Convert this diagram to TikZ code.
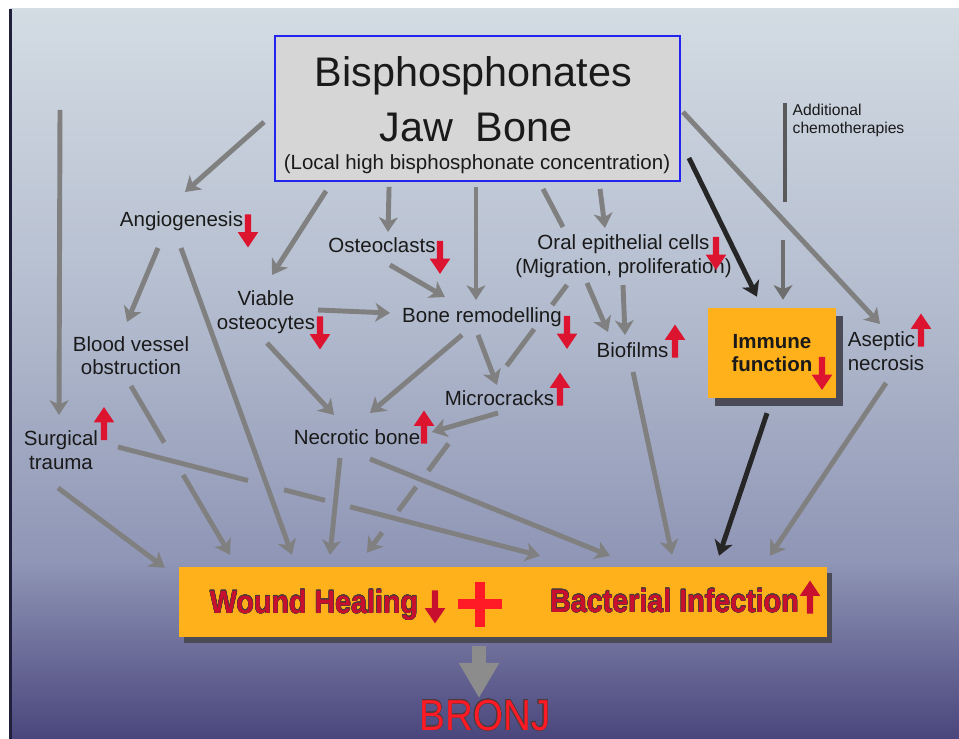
\documentclass[tikz,border=0pt]{standalone}
\usepackage{fontspec}
\setmainfont{Liberation Sans}
\newfontfamily\condfont{Liberation Sans}[FakeStretch=0.89]
\usepackage{tikz}
\usetikzlibrary{arrows.meta, shapes.arrows, shadows}
\usepackage[copies]{contour}
\contourlength{0.3pt}
\contournumber{16}
\definecolor{sltop}{HTML}{D3DBE3}
\definecolor{slmid}{HTML}{B4BDCF}
\definecolor{sllow}{HTML}{8F96B6}
\definecolor{slbot}{HTML}{4A467D}
\definecolor{sledge}{HTML}{20203A}
\definecolor{cgray}{HTML}{808080}
\definecolor{cmid}{HTML}{6E6E6E}
\definecolor{cdark}{HTML}{262626}
\definecolor{cchemo}{HTML}{5A5A5A}
\definecolor{bpfill}{HTML}{D6D6D6}
\definecolor{bpblue}{HTML}{2424F0}
\definecolor{morange}{HTML}{FFB11B}
\definecolor{mshadow}{HTML}{4B4B57}
\definecolor{mred}{HTML}{DC1430}
\definecolor{mdeep}{HTML}{C8102E}
\definecolor{mbright}{HTML}{FF1A26}
\definecolor{mtext}{HTML}{1A1A1A}
\definecolor{moutline}{HTML}{4A3A3A}
\definecolor{mbigarr}{HTML}{8C8C8C}
\tikzset{
  lbl/.style={text=mtext, font=\fontsize{17.5}{21}\selectfont, inner sep=2pt, anchor=base},
  lbl2/.style={text=mtext, font=\fontsize{17.5}{20}\selectfont, inner sep=2pt, align=center},
  garr/.style={-{Stealth[length=12.5pt, width=16pt, inset=3.5pt]}, line width=4.2pt, cgray},
  karr/.style={garr, cdark},
  gline/.style={line width=4.2pt, cgray},
  redarr/.style={single arrow, fill=mred, draw=none, inner sep=0.9mm,
                 minimum height=9.9mm, minimum width=6mm,
                 single arrow head extend=2.1mm, single arrow tip angle=68},
  dnarr/.style={redarr, rotate=-90},
  uparr/.style={redarr, rotate=90},
  obox/.style={fill=morange, draw=none, inner sep=0pt},
}

\begin{document}
\begin{tikzpicture}[x=0.03cm, y=-0.03cm]
  \tikzstyle{bottomtext} = [anchor=base, inner sep=0pt, text=mdeep, font=\condfont\bfseries\fontsize{27.5}{32}\selectfont]
  \useasboundingbox (0,0) rectangle (959,739);

  %% Slide background
  \fill[white] (0,0) rectangle (959,739);
  \shade[top color=sltop, bottom color=slmid] (10,9) rectangle (959,301);
  \shade[top color=slmid, bottom color=sllow] (10,300) rectangle (959,561);
  \shade[top color=sllow, bottom color=slbot] (10,560) rectangle (959,739);
  \fill[sledge] (9,9) rectangle (12,739);

  %% Top box
  \node[fill=bpfill, draw=bpblue, line width=1.6pt, minimum width=12.15cm, minimum height=4.35cm] (bp) at (477.5,108.5) {};
  \node[anchor=base, inner sep=0pt, text=mtext, font=\fontsize{35.3}{40}\selectfont] (t1) at (473.5,87) {Bisphosphonates};
  \node[anchor=base, inner sep=0pt, text=mtext, font=\fontsize{35.3}{40}\selectfont] (t2) at (476,142) {Jaw\ \ Bone};
  \node[anchor=base, inner sep=0pt, text=mtext, font=\fontsize{17.5}{21}\selectfont] (t3) at (477,170) {(Local high bisphosphonate concentration)};
  \node[text=mtext, font=\fontsize{13.4}{15.4}\selectfont, align=left, inner sep=1pt] (chemo) at (848.5,120.5) {Additional\\chemotherapies};

  %% Labels
  \node[lbl] (angio) at (181.5,227) {Angiogenesis};
  \node[lbl] (osteo) at (382,253) {Osteoclasts};
  \node[lbl] (remod) at (482,322) {Bone remodelling};
  \node[lbl] (necro) at (357,444) {Necrotic bone};
  \node[lbl] (micro) at (499.5,405) {Microcracks};
  \node[lbl] (biofilm) at (632.5,357) {Biofilms};
  \node[lbl2] (oral) at (623.5,256) {Oral epithelial cells\\(Migration, proliferation)};
  \node[lbl2] (viable) at (266,312) {Viable\\osteocytes};
  \node[lbl2] (blood) at (131,355.5) {Blood vessel\\obstruction};
  \node[lbl2] (surg) at (61,450) {Surgical\\trauma};
  \node[lbl2, align=left] (asep) at (886,351) {Aseptic\\necrosis};
  \node[obox, text=mtext, font=\bfseries\fontsize{17.5}{19.6}\selectfont, align=center,
        minimum width=3.84cm, minimum height=2.7cm,
        drop shadow={shadow xshift=2.1mm, shadow yshift=-2.4mm, fill=mshadow, opacity=1}] (immune) at (772,353) {Immune\\function};

  %% Bottom box
  \node[obox, minimum width=19.44cm, minimum height=2.1cm,
        drop shadow={shadow xshift=1.5mm, shadow yshift=-1.8mm, fill=mshadow, opacity=1}] (wb) at (503,602) {};
  \node[bottomtext] (wh) at (314,613) {\contour{moutline}{Wound Healing}};
  \node[bottomtext] (bi) at (674.5,612) {\contour{moutline}{Bacterial Infection}};
  \coordinate (plus) at (480,604);
  \draw[mbright, line width=7.7pt] ([shift={(-22,0)}]plus) -- ([shift={(22,0)}]plus);
  \draw[mbright, line width=7.7pt] ([shift={(0,-22.5)}]plus) -- ([shift={(0,22.5)}]plus);
  \node[anchor=base, inner sep=0pt, text=mbright, font=\condfont\fontsize{37}{42}\selectfont] (bronj) at (485,730) {\contour{moutline}{BRONJ}};

  %% Red markers
  \node[dnarr] (r1) at (248,228.5) {};
  \node[dnarr] (r2) at (440,255) {};
  \node[dnarr] (r3) at (716,251) {};
  \node[dnarr] (r4) at (320,330.5) {};
  \node[dnarr] (r5) at (567,330) {};
  \node[uparr] (r6) at (560,391.5) {};
  \node[uparr] (r7) at (424,429.5) {};
  \node[uparr] (r8) at (104,426) {};
  \node[uparr] (r9) at (675,343.5) {};
  \node[dnarr] (r10) at (822,371) {};
  \node[uparr] (r11) at (921,332.5) {};
  \node[dnarr, fill=mdeep] (r12) at (435,604.5) {};
  \node[uparr, fill=mdeep] (r13) at (810,599.5) {};

  %% From the top box
  \draw[garr] ([shift={(-10,13.5)}]bp.west) -- ([shift={(3.5,-35)}]angio.base);
  \draw[garr] ([shift={(52,9)}]bp.south west) -- ([shift={(6,-37)}]viable.center);
  \draw[garr] ([shift={(115,5)}]bp.south west) -- ([shift={(6,-21)}]osteo.base);
  \draw[garr] ([shift={(-1.5,5)}]bp.south) -- ([shift={(-6,-22)}]remod.base);
  \draw[gline] ([shift={(65.5,7)}]bp.south) -- ([shift={(-60.5,-29)}]oral.center);
  \draw[garr] ([shift={(122.5,7)}]bp.south) -- ([shift={(-18.5,-28)}]oral.center);
  \draw[karr] ([shift={(8,49.5)}]bp.east) -- ([shift={(-15,-11)}]immune.north);
  \draw[garr] ([shift={(2,3.5)}]bp.east) -- ([shift={(-6,-27)}]asep.center);
  \draw[line width=4.2pt, cchemo] ([shift={(-63.5,-17.5)}]chemo.center) -- ([shift={(-63.5,81.5)}]chemo.center);
  \draw[garr, cmid] ([shift={(11,-68)}]immune.north) -- ([shift={(11,-8)}]immune.north);

  %% Left side
  \coordinate (ltop) at (60,110);
  \draw[garr] (ltop) -- ([shift={(-2,-35)}]surg.center);
  \draw[garr] ([shift={(-23.5,21)}]angio.base) -- ([shift={(-4,-33.5)}]blood.center);
  \draw[garr] ([shift={(-0.5,21)}]angio.base) -- ([shift={(-211,-12)}]wb.north);
  \draw[garr, dash pattern=on 56pt off 32pt on 300pt] ([shift={(0,30.5)}]blood.center) -- ([shift={(-273,-12)}]wb.north);
  \draw[garr] ([shift={(-3,38)}]surg.center) -- ([shift={(-14,1)}]wb.north west);
  \draw[garr, dash pattern=on 114.6pt off 31.7pt on 36.2pt off 22pt on 400pt] ([shift={(57,-3)}]surg.center) -- ([shift={(37,-11)}]wb.north);

  %% Middle
  \draw[garr] ([shift={(52,-2)}]viable.center) -- ([shift={(-92,-9)}]remod.base);
  \draw[garr] ([shift={(1,31)}]viable.center) -- ([shift={(-23,-29)}]necro.base);
  \draw[garr] ([shift={(8,12)}]osteo.base) -- ([shift={(-37,-25)}]remod.base);
  \draw[garr] ([shift={(-20,13)}]remod.base) -- ([shift={(13,-31)}]necro.base);
  \draw[garr] ([shift={(-4,13)}]remod.base) -- ([shift={(-2.5,-20)}]micro.base);
  \draw[garr] ([shift={(-1.5,8)}]micro.base) -- ([shift={(75,-12)}]necro.base);
  \draw[garr] ([shift={(-36.5,27)}]oral.center) -- ([shift={(-24.5,-25)}]biofilm.base);
  \draw[garr] ([shift={(-0.5,29)}]oral.center) -- ([shift={(-7.5,-22)}]biofilm.base);
  \draw[garr, dash pattern=on 21.3pt off 25.6pt on 39.3pt off 82.8pt on 29pt off 17.1pt on 25.6pt off 23pt on 60pt] ([shift={(-56.5,29)}]oral.center) -- ([shift={(-136,-14)}]wb.north);
  \draw[garr] ([shift={(-17,14)}]necro.base) -- ([shift={(-173,-12)}]wb.north);
  \draw[garr] ([shift={(13,15)}]necro.base) -- ([shift={(107,-11)}]wb.north);

  %% Right side
  \draw[garr] ([shift={(0.5,15)}]biofilm.base) -- ([shift={(169,-12)}]wb.north);
  \draw[karr] ([shift={(-5,15)}]immune.south) -- ([shift={(216,-11)}]wb.north);
  \draw[garr] ([shift={(0,32)}]asep.center) -- ([shift={(267,-11)}]wb.north);

  %% To BRONJ
  \draw[-{Triangle[length=30pt, width=32.4pt]}, line width=12pt, mbigarr] ([shift={(-24,9)}]wb.south) -- ([shift={(-6,-32)}]bronj.base);

\end{tikzpicture}
\end{document}
